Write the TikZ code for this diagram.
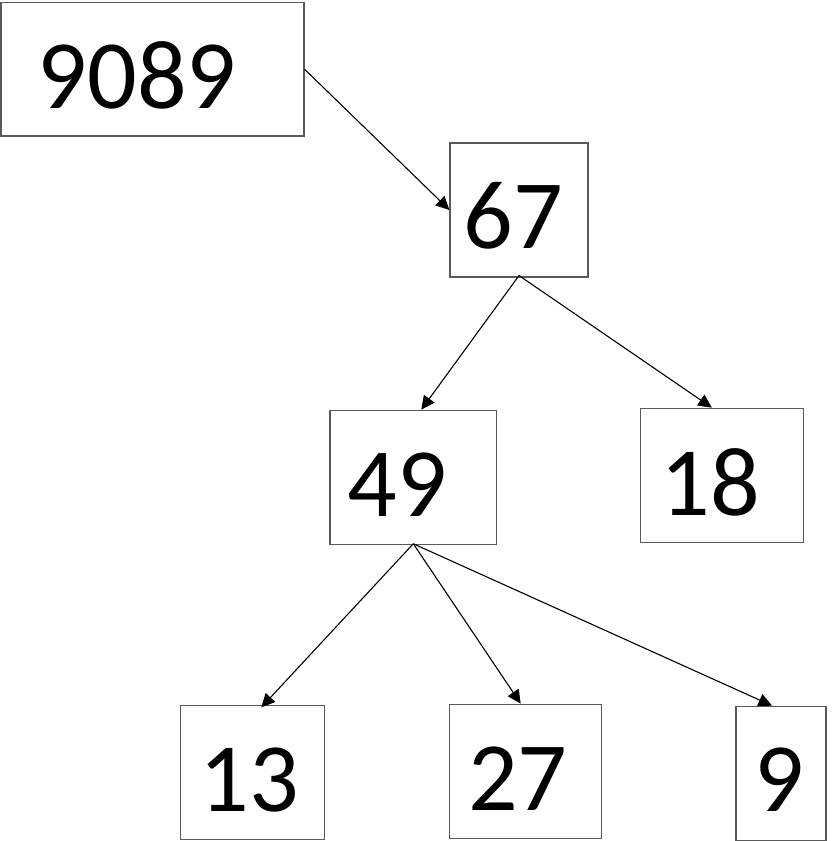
\documentclass[tikz,border=0pt]{standalone}
\usepackage{fontspec}
\setmainfont{Carlito}
\usetikzlibrary{arrows.meta}
\begin{document}
\begin{tikzpicture}[x=1pt,y=-1pt,
  box/.style={draw=black!65,line width=1.1pt,rectangle,inner sep=0pt,minimum width=#1,minimum height=134pt},
  num/.style={anchor=base,inner sep=0pt,font=\fontsize{98}{100}\selectfont},
  arr/.style={draw=black,line width=1.1pt,-{Triangle[length=13.5pt,width=13pt]}}]
\useasboundingbox (0,0) rectangle (831,841);
% boxes
\node[box=303pt,minimum height=133.5pt] (b9089) at (152.5,69.2) {};
\node[box=138pt] (b67) at (519,210) {};
\node[box=166.6pt] (b49) at (413.3,477.2) {};
\node[box=162.5pt] (b18) at (721.8,475.2) {};
\node[box=143.5pt] (b13) at (252.3,772.9) {};
\node[box=152pt] (b27) at (525.7,771.2) {};
\node[box=90pt] (b9) at (781,773.2) {};
% texts
\node[num] (t9089) at (137,108) {9089};
\node[num] (t67) at (513.5,248) {67};
\node[num] (t49) at (397,516.7) {49};
\node[num] (t18) at (710,515) {18};
\node[num] (t13) at (249,811.5) {13};
\node[num] (t27) at (517.7,810) {27};
\node[num] (t9) at (779,811.5) {9};
% arrows
\draw[arr] (b9089.east) -- (b67.west);
\draw[arr] ([yshift=2pt]b67.south) -- ([xshift=8pt]b49.north);
\draw[arr] ([yshift=2pt]b67.south) -- ([xshift=-10pt]b18.north);
\draw[arr] ([yshift=1pt]b49.south) -- ([xshift=9pt,yshift=-2pt]b13.north);
\draw[arr] ([yshift=1pt]b49.south) -- ([xshift=-5pt]b27.north);
\draw[arr] ([yshift=1pt]b49.south) -- ([xshift=-9pt]b9.north);
\end{tikzpicture}
\end{document}
